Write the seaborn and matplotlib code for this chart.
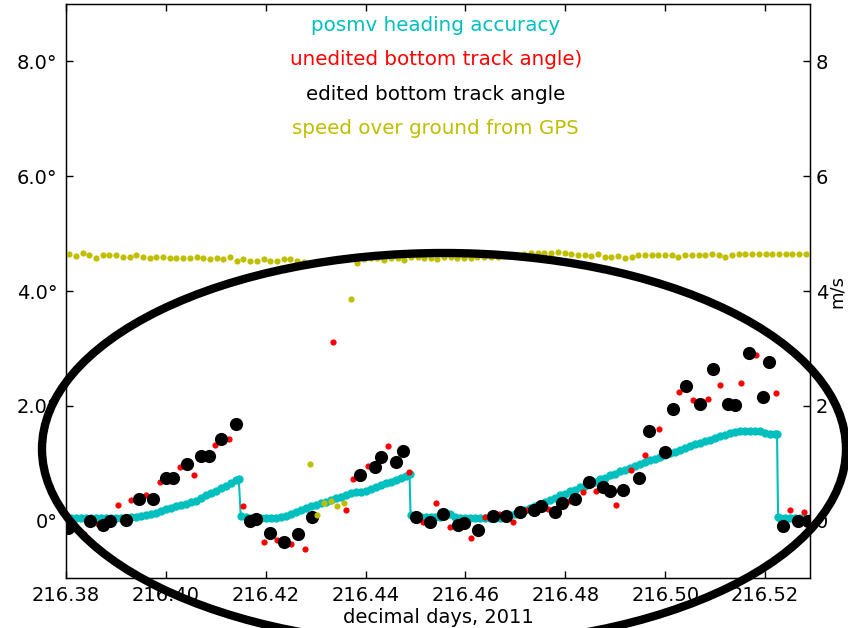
import matplotlib
matplotlib.use("Agg")
import matplotlib.pyplot as plt
import seaborn as sns
from matplotlib.patches import Ellipse

# --- data (decimal days 2011, degrees / m/s) ---
heading_t = [216.380, 216.381, 216.382, 216.383, 216.384, 216.385, 216.386, 216.387, 216.388, 216.389,
             216.390, 216.391, 216.392, 216.393, 216.394, 216.395, 216.396, 216.397, 216.398, 216.399,
             216.400, 216.401, 216.402, 216.403, 216.404, 216.405, 216.406, 216.407, 216.408, 216.409,
             216.410, 216.411, 216.412, 216.413, 216.414, 216.4146,
             216.4150, 216.416, 216.417, 216.418, 216.419, 216.420, 216.421, 216.422, 216.423, 216.424,
             216.425, 216.426, 216.427, 216.428, 216.429, 216.430, 216.431, 216.432, 216.433, 216.434,
             216.435, 216.436, 216.437, 216.438, 216.439, 216.440, 216.441, 216.442, 216.443, 216.444,
             216.445, 216.446, 216.447, 216.448, 216.4488,
             216.4490, 216.450, 216.451, 216.452, 216.453, 216.454, 216.455, 216.456, 216.457, 216.458,
             216.459, 216.460, 216.461, 216.462, 216.463, 216.464, 216.465, 216.466, 216.467, 216.468,
             216.469, 216.470, 216.471, 216.472, 216.473, 216.474, 216.475, 216.476, 216.477, 216.478,
             216.479, 216.480, 216.481, 216.482, 216.483, 216.484, 216.485, 216.486, 216.487, 216.488,
             216.489, 216.490, 216.491, 216.492, 216.493, 216.494, 216.495, 216.496, 216.497, 216.498,
             216.499, 216.500, 216.501, 216.502, 216.503, 216.504, 216.505, 216.506, 216.507, 216.508,
             216.509, 216.510, 216.511, 216.512, 216.513, 216.514, 216.515, 216.516, 216.517, 216.518,
             216.519, 216.520, 216.521, 216.522, 216.5224,
             216.5226, 216.523, 216.524, 216.525, 216.526, 216.527, 216.528, 216.529]
heading_acc = [0.05, 0.05, 0.05, 0.05, 0.05, 0.05, 0.05, 0.05, 0.05, 0.05,
               0.05, 0.05, 0.05, 0.06, 0.07, 0.08, 0.10, 0.12, 0.14, 0.17,
               0.20, 0.22, 0.25, 0.27, 0.29, 0.32, 0.35, 0.39, 0.44, 0.48,
               0.52, 0.57, 0.61, 0.66, 0.70, 0.73,
               0.08, 0.06, 0.05, 0.05, 0.05, 0.05, 0.05, 0.05, 0.06, 0.08,
               0.11, 0.15, 0.19, 0.22, 0.25, 0.28, 0.31, 0.33, 0.36, 0.39,
               0.42, 0.45, 0.48, 0.50, 0.49, 0.51, 0.55, 0.59, 0.62, 0.65,
               0.68, 0.71, 0.74, 0.78, 0.82,
               0.10, 0.06, 0.06, 0.06, 0.06, 0.06, 0.06, 0.10, 0.12, 0.07,
               0.05, 0.05, 0.05, 0.05, 0.05, 0.05, 0.05, 0.05, 0.05, 0.07,
               0.09, 0.12, 0.15, 0.18, 0.22, 0.25, 0.29, 0.32, 0.36, 0.40,
               0.44, 0.47, 0.51, 0.54, 0.58, 0.61, 0.65, 0.68, 0.72, 0.75,
               0.79, 0.82, 0.86, 0.89, 0.92, 0.95, 0.99, 1.02, 1.05, 1.08,
               1.11, 1.14, 1.17, 1.20, 1.23, 1.27, 1.30, 1.33, 1.36, 1.39,
               1.41, 1.44, 1.47, 1.50, 1.53, 1.55, 1.56, 1.56, 1.56, 1.56,
               1.56, 1.53, 1.51, 1.51, 1.51,
               0.07, 0.05, 0.05, 0.05, 0.05, 0.05, 0.05, 0.05]

raw_t = [216.3837, 216.3865, 216.3905, 216.3931, 216.3960, 216.3988, 216.4029, 216.4056, 216.4099, 216.4126,
         216.4155, 216.4196, 216.4223, 216.4251, 216.4279, 216.4335, 216.4361, 216.4375, 216.4405, 216.4445,
         216.4486, 216.4515, 216.4541, 216.4570, 216.4611, 216.4639, 216.4668, 216.4696, 216.4723, 216.4765,
         216.4807, 216.4835, 216.4861, 216.4901, 216.4931, 216.4959, 216.4987, 216.5027, 216.5055, 216.5085,
         216.5110, 216.5151, 216.5181, 216.5221, 216.5250, 216.5277]
raw_angle = [-0.24, -0.06, 0.27, 0.36, 0.44, 0.67, 0.94, 0.79, 1.32, 1.42,
             0.25, -0.37, -0.34, -0.40, -0.49, 3.12, 0.18, 0.72, 0.96, 1.30,
             0.85, -0.03, 0.31, -0.11, -0.30, 0.06, 0.12, -0.03, 0.18, 0.20,
             0.35, 0.50, 0.51, 0.27, 0.89, 1.15, 1.59, 2.24, 2.10, 2.12,
             2.37, 2.39, 2.88, 2.22, 0.18, 0.15]

edit_t = [216.3805, 216.3848, 216.3875, 216.3889, 216.3920, 216.3946, 216.3975, 216.4000, 216.4015, 216.4043,
          216.4071, 216.4087, 216.4111, 216.4141, 216.4168, 216.4181, 216.4209, 216.4237, 216.4265, 216.4293,
          216.4389, 216.4419, 216.4431, 216.4460, 216.4475, 216.4500, 216.4529, 216.4556, 216.4585, 216.4597,
          216.4626, 216.4655, 216.4681, 216.4709, 216.4737, 216.4751, 216.4779, 216.4793, 216.4819, 216.4847,
          216.4876, 216.4890, 216.4916, 216.4947, 216.4968, 216.5000, 216.5015, 216.5041, 216.5069, 216.5096,
          216.5125, 216.5140, 216.5167, 216.5195, 216.5207, 216.5235, 216.5265, 216.5286]
edit_angle = [-0.13, -0.01, -0.08, -0.01, 0.01, 0.37, 0.38, 0.75, 0.75, 0.98,
              1.12, 1.12, 1.42, 1.68, 0.00, 0.02, -0.22, -0.38, -0.23, 0.06,
              0.79, 0.94, 1.11, 1.02, 1.22, 0.06, -0.03, 0.12, -0.07, -0.05,
              -0.16, 0.08, 0.08, 0.15, 0.18, 0.26, 0.15, 0.31, 0.38, 0.67,
              0.59, 0.52, 0.54, 0.75, 1.56, 1.19, 1.95, 2.35, 2.03, 2.64,
              2.03, 2.01, 2.92, 2.16, 2.77, -0.09, -0.01, -0.01]

sog_t = [216.3807, 216.3820, 216.3834, 216.3847, 216.3861, 216.3874, 216.3887, 216.3901, 216.3914, 216.3928,
         216.3941, 216.3954, 216.3968, 216.3981, 216.3995, 216.4008, 216.4021, 216.4035, 216.4048, 216.4062,
         216.4075, 216.4088, 216.4102, 216.4115, 216.4129, 216.4142, 216.4155, 216.4169, 216.4182, 216.4196,
         216.4209, 216.4222, 216.4236, 216.4249, 216.4263, 216.4276, 216.4289, 216.4303, 216.4316, 216.4330,
         216.4343, 216.4356, 216.4370, 216.4383, 216.4397, 216.4410, 216.4423, 216.4437, 216.4450, 216.4464,
         216.4477, 216.4490, 216.4504, 216.4517, 216.4531, 216.4544, 216.4557, 216.4571, 216.4584, 216.4598,
         216.4611, 216.4624, 216.4638, 216.4651, 216.4665, 216.4678, 216.4691, 216.4705, 216.4718, 216.4732,
         216.4745, 216.4758, 216.4772, 216.4785, 216.4799, 216.4812, 216.4825, 216.4839, 216.4852, 216.4866,
         216.4879, 216.4892, 216.4906, 216.4919, 216.4933, 216.4946, 216.4959, 216.4973, 216.4986, 216.5000,
         216.5013, 216.5026, 216.5040, 216.5053, 216.5067, 216.5080, 216.5093, 216.5107, 216.5120, 216.5134,
         216.5147, 216.5160, 216.5174, 216.5187, 216.5201, 216.5214, 216.5227, 216.5241, 216.5254, 216.5268,
         216.5281]
sog = [4.64, 4.61, 4.67, 4.62, 4.57, 4.62, 4.62, 4.62, 4.59, 4.59,
       4.62, 4.59, 4.57, 4.59, 4.60, 4.57, 4.57, 4.57, 4.57, 4.60,
       4.57, 4.55, 4.57, 4.55, 4.59, 4.53, 4.55, 4.53, 4.53, 4.56,
       4.53, 4.53, 4.56, 4.56, 4.52, 4.50, 0.98, 0.10, 0.31, 0.34,
       0.26, 0.31, 3.86, 4.49, 4.55, 4.57, 4.57, 4.54, 4.57, 4.57,
       4.54, 4.60, 4.59, 4.57, 4.57, 4.56, 4.59, 4.59, 4.58, 4.57,
       4.58, 4.60, 4.59, 4.59, 4.59, 4.61, 4.62, 4.63, 4.65, 4.66,
       4.66, 4.66, 4.67, 4.68, 4.66, 4.64, 4.63, 4.62, 4.61, 4.64,
       4.59, 4.59, 4.61, 4.57, 4.59, 4.62, 4.62, 4.62, 4.62, 4.62,
       4.62, 4.59, 4.62, 4.62, 4.62, 4.62, 4.64, 4.62, 4.59, 4.62,
       4.64, 4.64, 4.64, 4.64, 4.64, 4.64, 4.64, 4.64, 4.64, 4.64,
       4.64]

x_ticks = [216.38, 216.40, 216.42, 216.44, 216.46, 216.48, 216.50, 216.52]
x_labels = ['216.38', '216.40', '216.42', '216.44', '216.46', '216.48', '216.50', '216.52']
y_ticks = [0, 2, 4, 6, 8]
left_labels = ['0°', '2.0°', '4.0°', '6.0°', '8.0°']
right_labels = ['0', '2', '4', '6', '8']
legend_labels = ['posmv heading accuracy', 'unedited bottom track angle)',
                 'edited bottom track angle', 'speed over ground from GPS']
legend_colors = ['c', 'r', 'k', 'y']

# --- style ---
sns.set_style('ticks', {'axes.edgecolor': 'black', 'xtick.color': 'black', 'ytick.color': 'black',
                        'text.color': 'black', 'axes.labelcolor': 'black'})
plt.rcParams['font.family'] = ['DejaVu Sans']
plt.rcParams['font.size'] = 14

fig = plt.figure(figsize=(8.48, 6.28), dpi=100)
ax = fig.add_axes([0.0778, 0.0796, 0.8774, 0.914])

sns.lineplot(x=heading_t, y=heading_acc, color='c', marker='o', markersize=6, markeredgewidth=0,
             linewidth=1.5, sort=False, estimator=None, ax=ax, zorder=2)
sns.scatterplot(x=raw_t, y=raw_angle, color='r', s=20, linewidth=0, ax=ax, zorder=3)
sns.scatterplot(x=edit_t, y=edit_angle, color='k', s=90, linewidth=0, ax=ax, zorder=4)

ax.set_xlim(216.38, 216.529)
ax.set_ylim(-1, 9)
ax.set_xticks(x_ticks)
ax.set_xticklabels(x_labels)
ax.set_yticks(y_ticks)
ax.set_yticklabels(left_labels)
ax.set_xlabel('decimal days, 2011', fontsize=14, labelpad=2)
ax.tick_params(axis='both', direction='in', length=5, width=1, labelsize=14, pad=6, top=True)
for sp in ax.spines.values():
    sp.set_linewidth(1)
    sp.set_color('black')

ax2 = ax.twinx()
sns.scatterplot(x=sog_t, y=sog, color='y', s=20, linewidth=0, ax=ax2)
ax2.set_ylim(-1, 9)
ax2.set_yticks(y_ticks)
ax2.set_yticklabels(right_labels)
ax2.set_ylabel('m/s', fontsize=13, labelpad=0)
ax2.tick_params(axis='y', direction='in', length=5, width=1, labelsize=14, pad=4)

# coloured, centred series labels (legend without handles)
label_y = [0.9634, 0.9042, 0.8432, 0.7840]
for txt, col, yy in zip(legend_labels, legend_colors, label_y):
    ax2.text(0.497, yy, txt, color=col, fontsize=14.3, ha='center', va='center',
             transform=ax2.transAxes)

# the big hand-drawn ring over the lower half
fig.add_artist(Ellipse((444 / 848, 1 - 449 / 628), 804 / 848, 392 / 628,
                       transform=fig.transFigure, fill=False, edgecolor='black',
                       linewidth=6, zorder=10))

fig.savefig('out.png', dpi=100)
